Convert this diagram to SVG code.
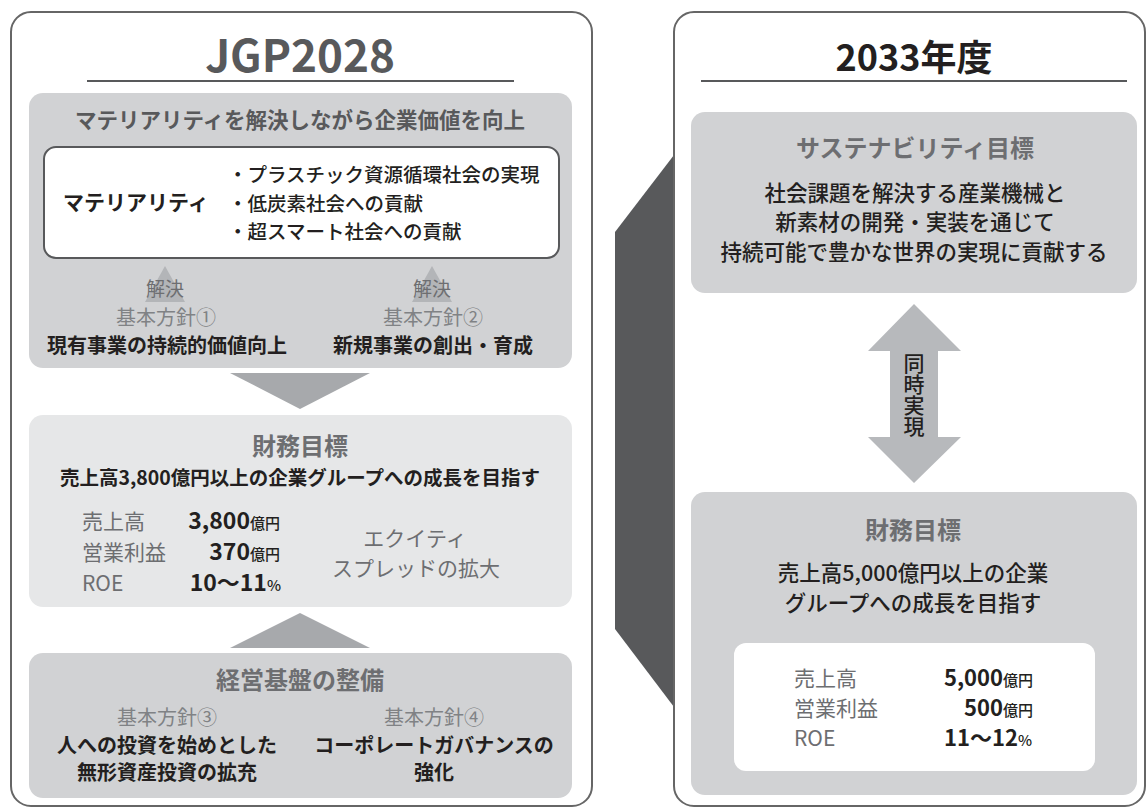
<svg xmlns="http://www.w3.org/2000/svg" width="1146" height="812" viewBox="0 0 1146 812">
<style>
text{font-family:"Noto Sans CJK JP","Noto Sans",sans-serif;}
.c{text-anchor:middle;}
.e{text-anchor:end;}
.b{font-weight:700;}
.blk{fill:#231f20;}
.med{font-weight:500;}
.gh{fill:#6d6e71;font-weight:700;}
.gl{fill:#808285;}
.lbl{fill:#6d6e71;font-size:21px;}
.val{fill:#231f20;font-weight:700;font-size:23px;}
.val2{fill:#231f20;font-weight:700;font-size:22px;}
.unit{fill:#231f20;font-size:15px;font-weight:500;}
.outer{fill:#fff;stroke:#666;stroke-width:2;}
.panel{fill:#d1d2d4;}
.panel2{fill:#e6e7e8;}
.rule{stroke:#58595b;stroke-width:2;}
.tri{fill:#b3b5b8;}
.big{fill:#a7a9ac;}
</style>

<g id="left-frame">
<rect class="outer" x="11" y="12" width="581" height="794" rx="20"/>
<text class="c b" x="300" y="72" font-size="44" fill="#58595b">JGP2028</text>
<line class="rule" x1="87" y1="81" x2="514" y2="81"/>
</g>

<g id="materiality-block">
<rect class="panel" x="29" y="93" width="543" height="275" rx="14"/>
<text class="c b" x="300" y="128" font-size="21.5" fill="#58595b">マテリアリティを解決しながら企業価値を向上</text>
<rect x="44" y="147" width="515" height="111" rx="12" fill="#fff" stroke="#58595b" stroke-width="2"/>
<text class="b blk" x="63" y="210" font-size="21">マテリアリティ</text>
<text class="blk med" x="228" y="182" font-size="19.5">・プラスチック資源循環社会の実現</text>
<text class="blk med" x="228" y="211" font-size="19.5">・低炭素社会への貢献</text>
<text class="blk med" x="228" y="239" font-size="19.5">・超スマート社会への貢献</text>
<polygon class="tri" points="145,302 165,266 185,302"/>
<polygon class="tri" points="412,302 432,266 452,302"/>
<text class="c" x="165" y="296" font-size="19" fill="#6d6e71">解決</text>
<text class="c" x="432" y="296" font-size="19" fill="#6d6e71">解決</text>
<text class="c gl" x="166" y="325" font-size="20">基本方針①</text>
<text class="c gl" x="433" y="325" font-size="20">基本方針②</text>
<text class="c b blk" x="167" y="353" font-size="20">現有事業の持続的価値向上</text>
<text class="c b blk" x="433" y="353" font-size="20">新規事業の創出・育成</text>
</g>

<g id="financial-2028">
<rect class="panel2" x="29" y="415" width="543" height="192" rx="14"/>
<text class="c gh" x="300" y="455" font-size="24">財務目標</text>
<text class="c b blk" x="300" y="485" font-size="19.5">売上高3,800億円以上の企業グループへの成長を目指す</text>
<text class="lbl" x="82" y="529">売上高</text>
<text class="lbl" x="82" y="560">営業利益</text>
<text class="lbl" x="82" y="591">ROE</text>
<text class="e" x="280" y="529"><tspan class="val">3,800</tspan><tspan class="unit">億円</tspan></text>
<text class="e" x="280" y="560"><tspan class="val">370</tspan><tspan class="unit">億円</tspan></text>
<text class="e" x="281" y="591"><tspan class="val">10〜11</tspan><tspan class="unit">%</tspan></text>
<text class="c lbl" x="415" y="546">エクイティ</text>
<text class="c lbl" x="416" y="576">スプレッドの拡大</text>
</g>

<g id="foundation">
<rect class="panel" x="29" y="653" width="543" height="145" rx="14"/>
<text class="c gh" x="300" y="689" font-size="24">経営基盤の整備</text>
<text class="c gl" x="167" y="725" font-size="20">基本方針③</text>
<text class="c b blk" x="167" y="753" font-size="20">人への投資を始めとした</text>
<text class="c b blk" x="167" y="780" font-size="20">無形資産投資の拡充</text>
<text class="c gl" x="434" y="725" font-size="20">基本方針④</text>
<text class="c b blk" x="434" y="753" font-size="20">コーポレートガバナンスの</text>
<text class="c b blk" x="434" y="780" font-size="20">強化</text>
</g>

<g id="right-frame">
<polygon points="674,155 615,232 615,629 674,707" fill="#58595b"/>
<rect class="outer" x="674" y="12" width="471" height="794" rx="20"/>
<text class="c b blk" x="914" y="71" font-size="36">2033年度</text>
<line class="rule" x1="701" y1="81" x2="1127" y2="81"/>
</g>

<g id="sustainability">
<rect class="panel" x="691" y="112" width="446" height="181" rx="14"/>
<text class="c gh" x="915" y="157" font-size="24">サステナビリティ目標</text>
<text class="c blk med" x="915" y="201" font-size="21.5">社会課題を解決する産業機械と</text>
<text class="c blk med" x="915" y="230" font-size="21.5">新素材の開発・実装を通じて</text>
<text class="c blk med" x="914" y="260" font-size="21.5">持続可能で豊かな世界の実現に貢献する</text>
</g>

<g id="financial-2033">
<rect class="panel" x="691" y="492" width="446" height="303" rx="14"/>
<text class="c gh" x="913" y="539" font-size="24">財務目標</text>
<text class="c blk med" x="913" y="581" font-size="21.5">売上高5,000億円以上の企業</text>
<text class="c blk med" x="913" y="611" font-size="21.5">グループへの成長を目指す</text>
<rect x="734" y="643" width="361" height="128" rx="12" fill="#fff"/>
<text class="lbl" x="794" y="686">売上高</text>
<text class="lbl" x="794" y="716">営業利益</text>
<text class="lbl" x="794" y="746">ROE</text>
<text class="e" x="1033" y="686"><tspan class="val2">5,000</tspan><tspan class="unit">億円</tspan></text>
<text class="e" x="1033" y="716"><tspan class="val2">500</tspan><tspan class="unit">億円</tspan></text>
<text class="e" x="1032" y="746"><tspan class="val2">11〜12</tspan><tspan class="unit">%</tspan></text>
</g>

<g id="connectors">
<polygon class="big" points="230,373 370,373 300,409"/>
<polygon class="big" points="230,648 370,648 300,613"/>
<polygon points="914,304 961,351 938,351 938,437 961,437 914,483 868,437 890,437 890,351 868,351" fill="#b7b9bc"/>
<text class="blk med" x="914" y="353" font-size="21" style="writing-mode:vertical-rl">同時実現</text>
</g>
</svg>
